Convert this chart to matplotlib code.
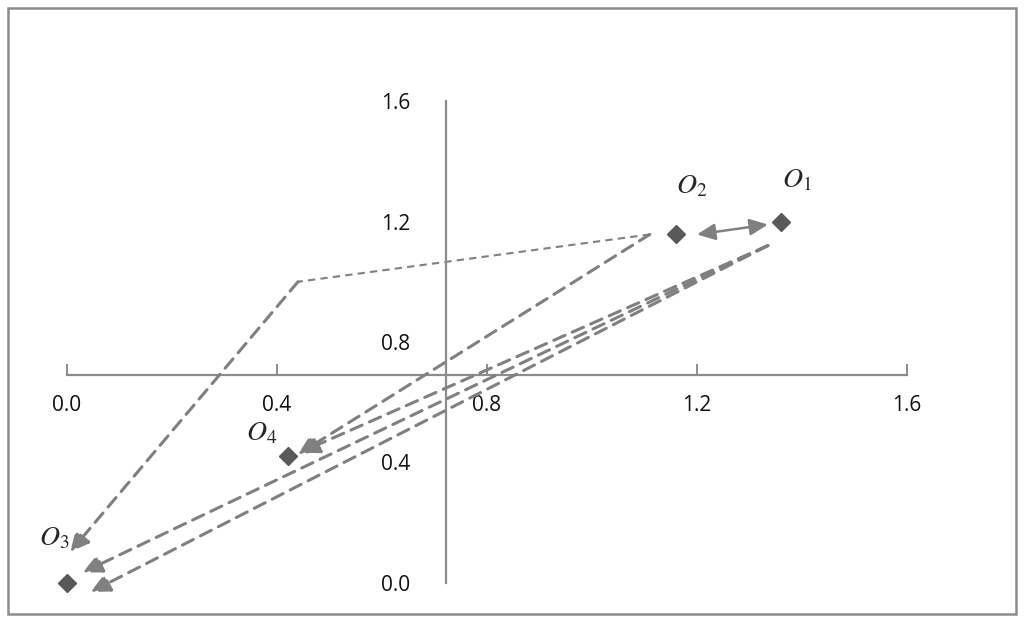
import matplotlib
matplotlib.use('Agg')
import matplotlib.pyplot as plt
from matplotlib.patches import Rectangle

plt.rcParams['mathtext.fontset'] = 'stix'

# ---- data ----
pt_names = ['$O_1$', '$O_2$', '$O_3$', '$O_4$']
pt_x = [1.36, 1.16, 0.00, 0.42]
pt_y = [1.20, 1.16, 0.00, 0.42]

# solid two-way arrow between O2 and O1
swap_x = [1.20, 1.335]
swap_y = [1.157, 1.19]

# bent dashed path O2 -> bend -> O3
bend_x = [1.11, 0.44, 0.006]
bend_y = [1.157, 1.00, 0.103]

# straight dashed arrows (start, tip)
arr_x0 = [1.11, 1.335, 1.335, 1.335]
arr_y0 = [1.157, 1.12, 1.12, 1.12]
arr_x1 = [0.44, 0.444, 0.03, 0.045]
arr_y1 = [0.427, 0.433, 0.035, -0.03]

ticks = [0.0, 0.4, 0.8, 1.2, 1.6]
cross_x, cross_y = 0.722, 0.69

GREY = '#808080'
DASH = (0, (4, 2.6))
HEAD = '-|>,head_length=1.15,head_width=0.55'

fig = plt.figure(figsize=(10.24, 6.23), dpi=100)
fig.patches.append(Rectangle((8/1024, 9/623), 1008/1024, 606/623, transform=fig.transFigure,
                             fill=False, ec='#8c8c8c', lw=1.8))

ax = fig.add_axes([67/1024, 40/623, 840/1024, 482/623])
ax.set_xlim(0, 1.6)
ax.set_ylim(0, 1.6)

for s in ['top', 'right']:
    ax.spines[s].set_visible(False)
ax.spines['left'].set_position(('data', cross_x))
ax.spines['bottom'].set_position(('data', cross_y))
for s in ['left', 'bottom']:
    ax.spines[s].set_color('#8c8c8c')
    ax.spines[s].set_linewidth(1.6)

ax.set_xticks(ticks)
ax.set_yticks(ticks)
ax.set_xticklabels([f'{t:.1f}' for t in ticks])
ax.set_yticklabels([f'{t:.1f}' for t in ticks])
ax.tick_params(axis='x', direction='in', length=8, width=1.4, color='#8c8c8c',
               pad=14, labelsize=15)
ax.tick_params(axis='y', length=0, pad=26, labelsize=15)
for lab in ax.get_xticklabels() + ax.get_yticklabels():
    lab.set_fontfamily('Open Sans')
    lab.set_color('#111111')

# bent path: thin first leg, regular second leg with head
ax.plot(bend_x[:2], bend_y[:2], color=GREY, lw=1.5, ls=(0, (3.5, 2.5)), clip_on=False)
ax.annotate('', xy=(bend_x[2], bend_y[2]), xytext=(bend_x[1], bend_y[1]),
            arrowprops=dict(arrowstyle=HEAD, color=GREY,
                            lw=2.2, ls=DASH, shrinkA=0, shrinkB=0), annotation_clip=False)

for x0, y0, x1, y1 in zip(arr_x0, arr_y0, arr_x1, arr_y1):
    ax.annotate('', xy=(x1, y1), xytext=(x0, y0),
                arrowprops=dict(arrowstyle=HEAD, color=GREY,
                                lw=2.2, ls=DASH, shrinkA=0, shrinkB=0), annotation_clip=False)

ax.annotate('', xy=(swap_x[0], swap_y[0]), xytext=(swap_x[1], swap_y[1]),
            arrowprops=dict(arrowstyle='<|-|>,head_length=1.1,head_width=0.5', color=GREY,
                            lw=1.8, shrinkA=0, shrinkB=0))

ax.plot(pt_x, pt_y, ls='none', marker='D', ms=9.5, color='#595959', clip_on=False, zorder=5)

lab_dx = [0.03, 0.03, -0.025, -0.05]
lab_dy = [0.14, 0.16, 0.15, 0.08]
for n, x, y, dx, dy in zip(pt_names, pt_x, pt_y, lab_dx, lab_dy):
    ax.text(x + dx, y + dy, n, fontsize=20, ha='center', va='center', color='#262626')

fig.savefig('out.png', dpi=100)
